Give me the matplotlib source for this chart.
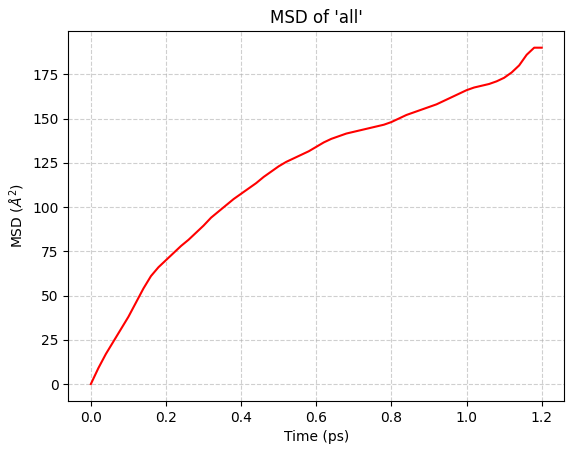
import matplotlib
matplotlib.use("Agg")
import matplotlib.pyplot as plt

time_ps = [0.0,0.02,0.04,0.06,0.08,0.10,0.12,0.14,0.16,0.18,0.20,0.22,0.24,0.26,0.28,0.30,
           0.32,0.34,0.36,0.38,0.40,0.42,0.44,0.46,0.48,0.50,0.52,0.54,0.56,0.58,0.60,0.62,
           0.64,0.66,0.68,0.70,0.72,0.74,0.76,0.78,0.80,0.82,0.84,0.86,0.88,0.90,0.92,0.94,
           0.96,0.98,1.00,1.02,1.04,1.06,1.08,1.10,1.12,1.14,1.16,1.18,1.20]
msd = [0,9,17,24,31,38,46,54,61,66,70,74,78,81.5,85.5,89.5,94,97.5,101,104.5,107.5,110.5,
       113.5,117,120,123,125.5,127.5,129.5,131.5,134,136.5,138.5,140,141.5,142.5,143.5,144.5,
       145.5,146.5,148,150,152,153.5,155,156.5,158,160,162,164,166,167.5,168.5,169.5,171,
       173,176,180,186,190,190]

fig, ax = plt.subplots(figsize=(5.74, 4.54), dpi=100)
fig.subplots_adjust(left=0.119, right=0.983, top=0.932, bottom=0.117)
ax.plot(time_ps, msd, color='red')
ax.set_title("MSD of 'all'")
ax.set_xlabel("Time (ps)")
ax.set_ylabel(r"MSD ($\AA^2$)")
ax.grid(True, linestyle='--', alpha=0.6)
fig.savefig("out.png", dpi=100)
